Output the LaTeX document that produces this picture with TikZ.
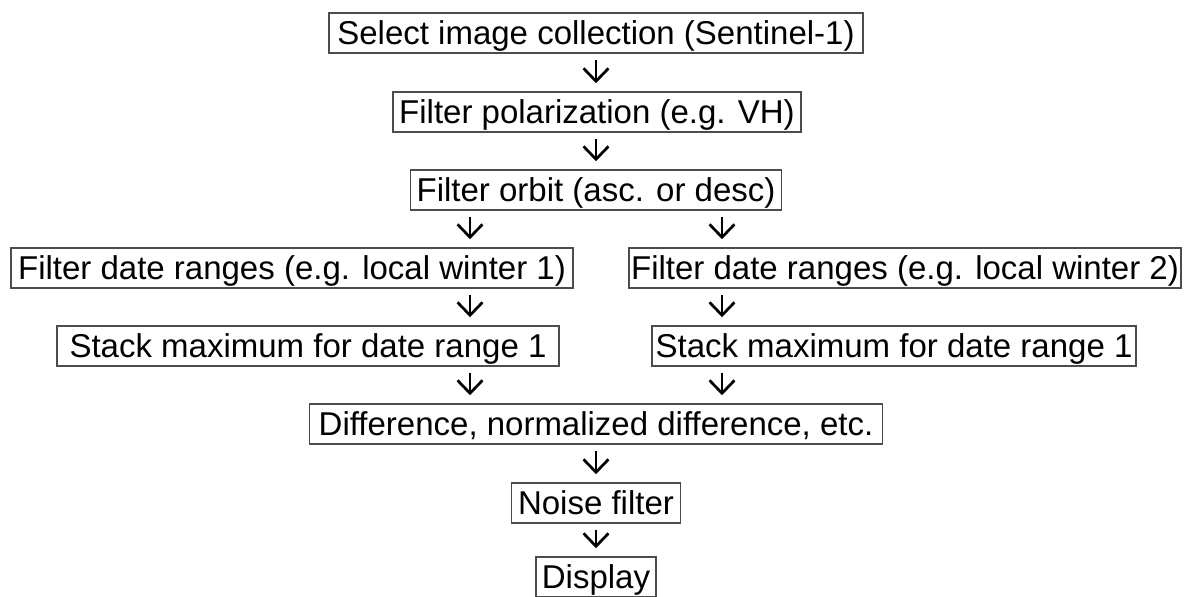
\documentclass[tikz,border=0pt]{standalone}
\usepackage{fontspec}
\setmainfont{Liberation Sans}
\usetikzlibrary{arrows.meta}

\begin{document}
\begin{tikzpicture}
[x=0.5pt,y=-0.5pt,
  lineDecorate/.style={-{Straight Barb[length=6.5pt,width=12.5pt]},line width=1.35pt,
    shorten <=3pt,shorten >=4pt},%
  nodeDecorate/.style={shape=rectangle,draw=black!70,line width=0.75pt,inner sep=0pt,
    minimum height=20pt,text height=11.8pt,text depth=0pt,
    font=\fontsize{16.5pt}{19pt}\selectfont}]
\useasboundingbox (0,0) rectangle (1187,597);
\clip (0,0) rectangle (1187,597);
%% nodes or boxes
\foreach \nodename/\x/\y/\w/\txt in {
  select/596/33/534/{Select image collection (Sentinel-1)},
  polar/597/112/408/{Filter polarization (e.g. VH)},
  orbit/596/190/371/{Filter orbit (asc. or desc)},
  dateA/292/268/562/{Filter date ranges (e.g. local winter 1)},
  dateB/905/268/552/{Filter date ranges (e.g. local winter 2)},
  stackA/308/346/502/{Stack maximum for date range 1},
  stackB/894/346/484/{Stack maximum for date range 1},
  diff/596/424/573/{Difference, normalized difference, etc.},
  noise/596/503/169/{Noise filter},
  display/596/577/120/{Display}}
{
  \node (\nodename) at (\x,\y) [nodeDecorate,minimum width=\w*0.5pt] {\txt};
}
%% arrow columns
\coordinate (midCol) at (596,0);
\coordinate (leftCol) at (470,0);
\coordinate (rightCol) at (722,0);
%% arrows
\path
\foreach \startnode/\endnode/\col in {
  select/polar/midCol, polar/orbit/midCol,
  orbit/dateA/leftCol, orbit/dateB/rightCol,
  dateA/stackA/leftCol, dateB/stackB/rightCol,
  stackA/diff/leftCol, stackB/diff/rightCol,
  diff/noise/midCol, noise/display/midCol}
{
  (\startnode.south -| \col) edge[lineDecorate] (\endnode.north -| \col)
};
\end{tikzpicture}
\end{document}
